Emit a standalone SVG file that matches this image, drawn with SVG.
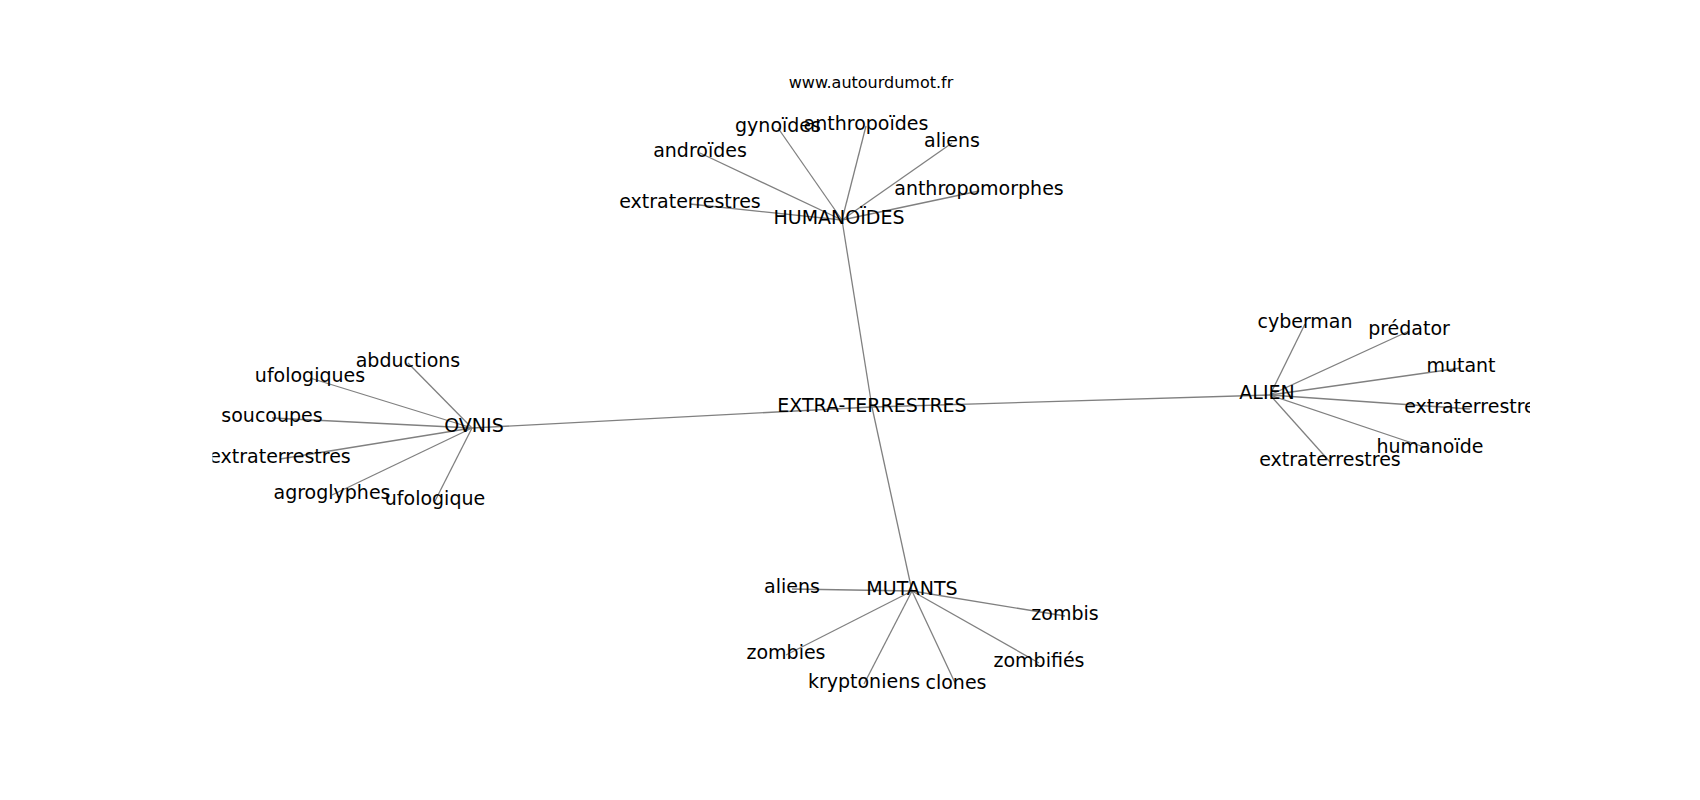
<svg xmlns="http://www.w3.org/2000/svg" width="1700" height="800" viewBox="0 0 1700 800">
<style>
.lbl{font-family:"DejaVu Sans","Liberation Sans",sans-serif;font-size:19px;fill:#000;text-anchor:middle}
.ttl{font-family:"DejaVu Sans","Liberation Sans",sans-serif;font-size:16px;fill:#000;text-anchor:middle}
.edges line{stroke:#808080;stroke-width:1.3}
</style>
<defs><clipPath id="ax"><rect x="212.5" y="96" width="1317.5" height="616"/></clipPath></defs>
<rect width="1700" height="800" fill="#fff"/>
<text class="ttl" x="871" y="88">www.autourdumot.fr</text>
<g clip-path="url(#ax)">
<g id="connectors" class="edges">
<line x1="872" y1="407" x2="842" y2="220"/>
<line x1="872" y1="407" x2="472" y2="428"/>
<line x1="872" y1="407" x2="1270" y2="395"/>
<line x1="872" y1="407" x2="912" y2="591"/>
<line x1="842" y1="220" x2="690" y2="204"/>
<line x1="842" y1="220" x2="700" y2="153"/>
<line x1="842" y1="220" x2="778" y2="128"/>
<line x1="842" y1="220" x2="866" y2="126"/>
<line x1="842" y1="220" x2="952" y2="143"/>
<line x1="842" y1="220" x2="979" y2="191"/>
<line x1="472" y1="428" x2="408" y2="363"/>
<line x1="472" y1="428" x2="310" y2="378"/>
<line x1="472" y1="428" x2="272" y2="418"/>
<line x1="472" y1="428" x2="280" y2="459"/>
<line x1="472" y1="428" x2="332" y2="495"/>
<line x1="472" y1="428" x2="435" y2="501"/>
<line x1="1270" y1="395" x2="1305" y2="324"/>
<line x1="1270" y1="395" x2="1409" y2="331"/>
<line x1="1270" y1="395" x2="1461" y2="368"/>
<line x1="1270" y1="395" x2="1470" y2="409"/>
<line x1="1270" y1="395" x2="1430" y2="449"/>
<line x1="1270" y1="395" x2="1330" y2="462"/>
<line x1="912" y1="591" x2="792" y2="589"/>
<line x1="912" y1="591" x2="1065" y2="616"/>
<line x1="912" y1="591" x2="786" y2="655"/>
<line x1="912" y1="591" x2="864" y2="684"/>
<line x1="912" y1="591" x2="956" y2="685"/>
<line x1="912" y1="591" x2="1039" y2="663"/>
</g>
<g id="n-center"><text class="lbl" x="872" y="412">EXTRA-TERRESTRES</text></g>
<g id="n-humanoides"><text class="lbl" x="839" y="224">HUMANOÏDES</text></g>
<g id="n-ovnis"><text class="lbl" x="474" y="432">OVNIS</text></g>
<g id="n-alien"><text class="lbl" x="1267" y="399">ALIEN</text></g>
<g id="n-mutants"><text class="lbl" x="912" y="595">MUTANTS</text></g>
<g id="n-h-extraterrestres"><text class="lbl" x="690" y="208">extraterrestres</text></g>
<g id="n-h-androides"><text class="lbl" x="700" y="157">androïdes</text></g>
<g id="n-h-gynoides"><text class="lbl" x="778" y="132">gynoïdes</text></g>
<g id="n-h-anthropoides"><text class="lbl" x="866" y="130">anthropoïdes</text></g>
<g id="n-h-aliens"><text class="lbl" x="952" y="147">aliens</text></g>
<g id="n-h-anthropomorphes"><text class="lbl" x="979" y="195">anthropomorphes</text></g>
<g id="n-o-abductions"><text class="lbl" x="408" y="367">abductions</text></g>
<g id="n-o-ufologiques"><text class="lbl" x="310" y="382">ufologiques</text></g>
<g id="n-o-soucoupes"><text class="lbl" x="272" y="422">soucoupes</text></g>
<g id="n-o-extraterrestres"><text class="lbl" x="280" y="463">extraterrestres</text></g>
<g id="n-o-agroglyphes"><text class="lbl" x="332" y="499">agroglyphes</text></g>
<g id="n-o-ufologique"><text class="lbl" x="435" y="505">ufologique</text></g>
<g id="n-a-cyberman"><text class="lbl" x="1305" y="328">cyberman</text></g>
<g id="n-a-predator"><text class="lbl" x="1409" y="335">prédator</text></g>
<g id="n-a-mutant"><text class="lbl" x="1461" y="372">mutant</text></g>
<g id="n-a-extraterrestre"><text class="lbl" x="1470" y="413">extraterrestre</text></g>
<g id="n-a-humanoide"><text class="lbl" x="1430" y="453">humanoïde</text></g>
<g id="n-a-extraterrestres"><text class="lbl" x="1330" y="466">extraterrestres</text></g>
<g id="n-m-aliens"><text class="lbl" x="792" y="593">aliens</text></g>
<g id="n-m-zombis"><text class="lbl" x="1065" y="620">zombis</text></g>
<g id="n-m-zombies"><text class="lbl" x="786" y="659">zombies</text></g>
<g id="n-m-kryptoniens"><text class="lbl" x="864" y="688">kryptoniens</text></g>
<g id="n-m-clones"><text class="lbl" x="956" y="689">clones</text></g>
<g id="n-m-zombifies"><text class="lbl" x="1039" y="667">zombifiés</text></g>
</g>
</svg>
